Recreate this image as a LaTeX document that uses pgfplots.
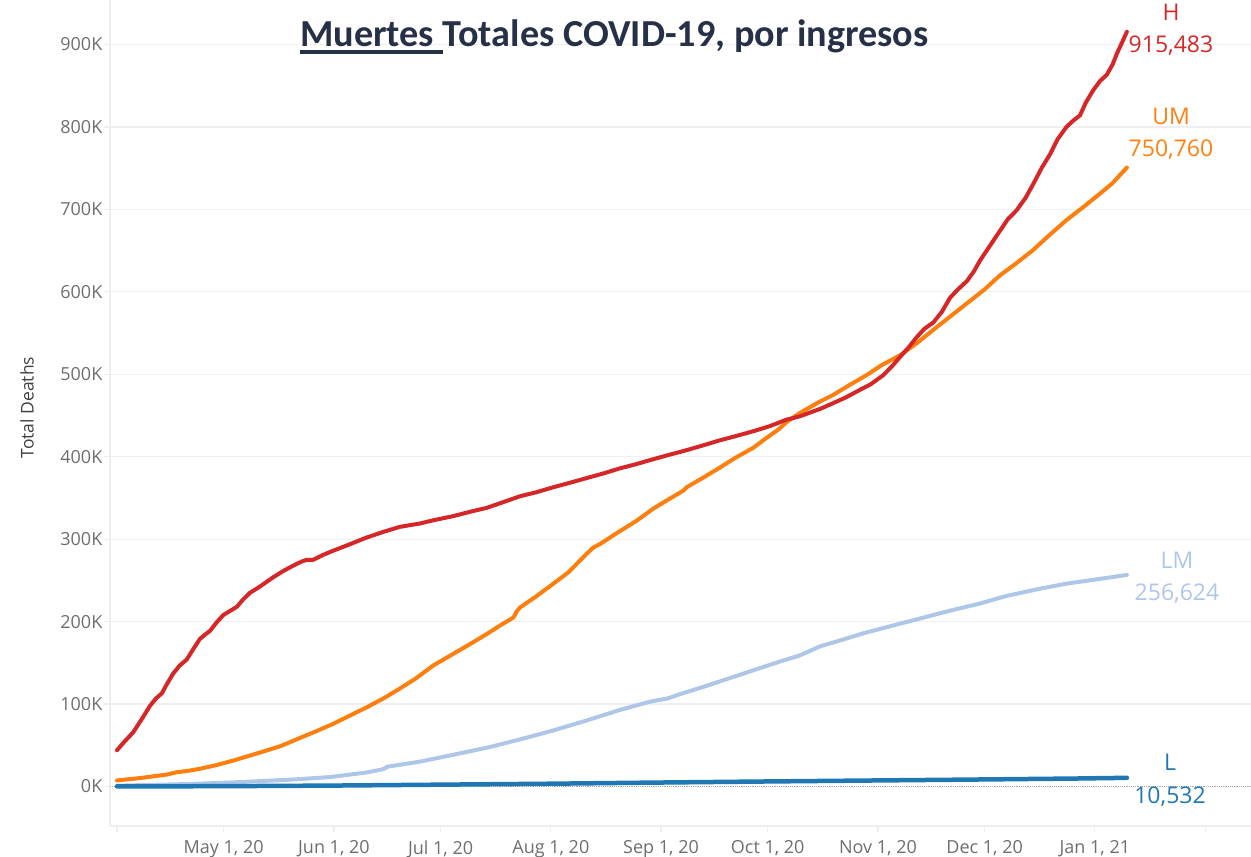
\documentclass[border=0pt]{standalone}
\usepackage{pgfplots}
\pgfplotsset{compat=1.18}
\usepackage{fontspec}
\setmainfont{Open Sans}
\newfontfamily\titlefont{Carlito}
\definecolor{cH}{HTML}{D62728}
\definecolor{cUM}{HTML}{FF7F0E}
\definecolor{cLM}{HTML}{AEC7E8}
\definecolor{cL}{HTML}{1F77B4}
\definecolor{ctitle}{HTML}{263046}
\definecolor{ctick}{HTML}{6E6E6E}
\definecolor{cgrid}{HTML}{EFEFEF}

\pgfplotstableread{
d v
0 44
2 54
4.6 66
7 82
9.3 98
11 107
12.6 113
14 124
15.8 137
17.7 147
19.6 154
21.5 167
23.3 179
25 185
26.2 189
28 199
29.9 208
31.8 213
33.7 218
35.5 227
37.4 235
40 242
42 248
44 254
47 262
49.6 268
52 273
53.4 275
55.2 275
58 281
60.8 286
65 293
70.2 302
75 309
79.6 315
85.2 319
89 323
94.6 328
100 334
104 338
108 344
113.3 352
118 357
122.7 363
127 368
132 374
137 380
141.5 386
146 391
150.8 397
155 402
160.2 408
165 414
169.6 420
174 425
179 431
183.5 437
188.3 445
192 449
197.7 458
201.4 465
205 472
208 479
212 488
215.5 499
218 510
220.2 521
222.5 532
224.9 545
227 555
229.6 563
232 576
234.3 593
236.5 603
239 613
241 625
242.7 638
245.5 656
248.3 674
250.5 688
253 699
255.5 714
257.7 731
260 750
262.4 767
264.5 785
267 800
269 808
270.8 814
272.5 830
274.6 845
276.5 856
278.3 863
280 876
281.2 889
282.8 904
284 915.483
}\tH

\pgfplotstableread{
d v
0 7.3
7 10.5
14 14.5
16.8 17.3
20 19
23.3 21.5
28 26
32.7 31.5
37 37
42 43.6
46 49
51.5 59
56 67
60.8 76
65 85
70.2 96
75 107
79.6 119
84 131
89 147
94.6 161
99 172
104 185
108 196
111.5 205
112.5 213
113.3 217
118 231
122.7 246
127 260
132 282
134 290
135.8 294
141.5 310
146 322
150.8 337
155 348
159.3 359
160.2 363
165 375
169.6 387
174 399
179 411
182.7 423
186 433
188.3 442
192 453
197.7 467
201.4 475
206 487
210.8 499
215 511
220.2 523
225 538
229.6 554
234 569
239 586
244 603
248.3 620
253 635
257.7 651
262 668
267 687
271.5 702
276.4 719
280 732
284 750.76
}\tUM

\pgfplotstableread{
d v
0 1
20 3
32.7 5
45 7.5
51.5 9
60 11.5
70.2 17
74.9 21
76 24
85 30
93.6 37.6
105 48
115 59
122.7 68
132 80
141.5 93
150 103
155 107
158.3 112
165 121
172 131
179 141
186 151
192 159
197.7 170
204 178
210 186
218 195
226 204
234 213
242.7 222
250 231
259.6 240
267 246
275 251
284 256.624
}\tLM

\pgfplotstableread{
d v
0 0.1
30 0.4
60 1.1
90 2.2
120 3.3
150 4.7
180 6.0
210 7.2
240 8.4
270 9.7
284 10.532
}\tL

\begin{document}
\begin{tikzpicture}[x=1pt,y=1pt]
\useasboundingbox (0,0) rectangle (1251,857);
\begin{axis}[
  at={(110pt,31pt)}, anchor=south west,
  scale only axis, width=1141pt, height=826pt,
  xmin=-1.97, xmax=318.9, ymin=-47.9, ymax=954,
  axis x line*=bottom, axis y line*=left,
  axis line style={-, draw=cgrid, line width=1.2pt},
  tick align=outside, major tick length=6.5pt,
  tick style={draw=cgrid, line width=1.2pt},
  xtick={0,30,61,91,122,153,183,214,244,275,306},
  xticklabels={{},{May 1, 20},{Jun 1, 20},{Jul 1, 20},{Aug 1, 20},{Sep 1, 20},{Oct 1, 20},{Nov 1, 20},{Dec 1, 20},{Jan 1, 21},{}},
  ytick={100,200,...,900},
  yticklabels={100K,200K,300K,400K,500K,600K,700K,800K,900K},
  extra y ticks={0}, extra y tick labels={0K},
  extra y tick style={grid style={densely dotted, draw=gray!70, line width=0.7pt}},
  ymajorgrids, grid style={draw=cgrid, line width=1.2pt},
  /pgf/number format/assume math mode=true,
  ticklabel style={font=\fontsize{18}{20}\selectfont, text=ctick},
  yticklabel style={anchor=east, inner sep=0pt, xshift=-1pt},
  xticklabel style={anchor=north, inner sep=0pt, yshift=-8pt},
  clip=false,
]
\addplot[cLM, line width=4pt, line join=round, line cap=round] table[x=d,y=v]{\tLM};
\addplot[cL, line width=4.5pt, line join=round, line cap=round] table[x=d,y=v]{\tL};
\addplot[cUM, line width=4pt, line join=round, line cap=round] table[x=d,y=v]{\tUM};
\addplot[cH, line width=4pt, line join=round, line cap=round] table[x=d,y=v]{\tH};
\end{axis}
\node[rotate=90, font=\fontsize{17.5}{18}\selectfont, text=black!75] at (27,449.5) {Total Deaths};
\node[anchor=base west, inner sep=0pt, text=ctitle, font=\titlefont\bfseries\fontsize{38.2}{40}\selectfont] at (300,810)
  {\setbox0\hbox{Muertes }\rlap{\rule[-7pt]{\wd0}{4pt}}Muertes Totales COVID-19, por ingresos};
\begin{scope}[every node/.style={anchor=base, inner sep=0pt, font=\fontsize{23}{24}\selectfont}]
\node[text=cH] at (1171,836) {H};
\node[text=cH] at (1171,804) {915,483};
\node[text=cUM] at (1171,732) {UM};
\node[text=cUM] at (1171,700) {750,760};
\node[text=cLM] at (1177,288) {LM};
\node[text=cLM] at (1177,256) {256,624};
\node[text=cL] at (1170,86) {L};
\node[text=cL] at (1170,53) {10,532};
\end{scope}
\end{tikzpicture}
\end{document}
